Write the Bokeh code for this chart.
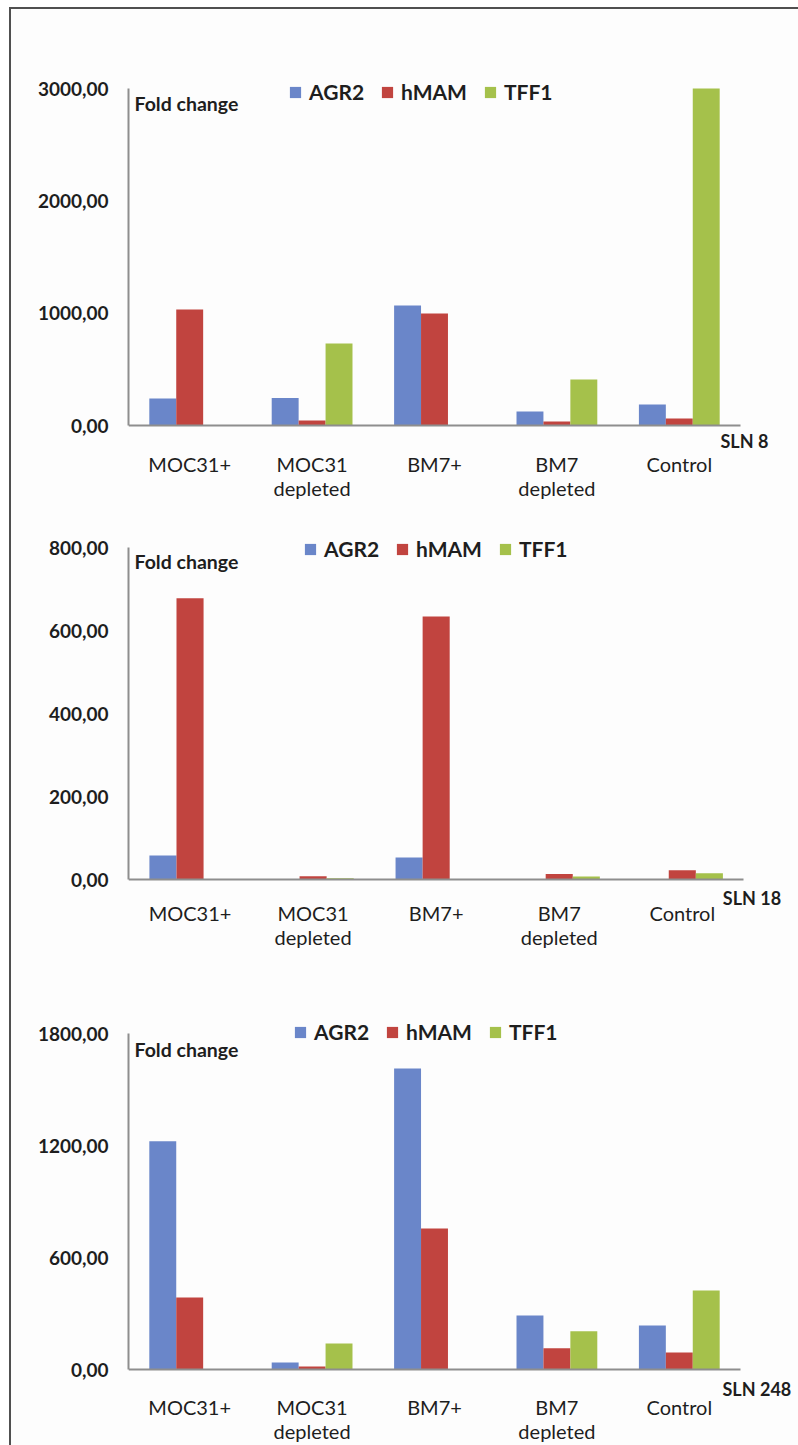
from bokeh.plotting import figure
from bokeh.layouts import column
from bokeh.models import Range1d, FixedTicker, Label, Legend, LegendItem, ColumnDataSource
from bokeh.core.properties import value
from bokeh.embed import file_html
from bokeh.resources import INLINE

categories = ["MOC31+", "MOC31\ndepleted", "BM7+", "BM7\ndepleted", "Control"]
series = ["AGR2", "hMAM", "TFF1"]
colors = ["#6a86c9", "#c1443f", "#a5c14b"]

# SLN 8
sln8_agr2 = [240, 245, 1068, 125, 187]
sln8_hmam = [1033, 45, 997, 35, 62]
sln8_tff1 = [0, 730, 0, 410, 3000]
sln8_ticks = [0, 1000, 2000, 3000]
sln8_tick_labels = ["0,00", "1000,00", "2000,00", "3000,00"]

# SLN 18
sln18_agr2 = [58, 0.5, 53, 0.5, 1]
sln18_hmam = [678, 8, 634, 13, 22]
sln18_tff1 = [0, 3, 0, 7, 15]
sln18_ticks = [0, 200, 400, 600, 800]
sln18_tick_labels = ["0,00", "200,00", "400,00", "600,00", "800,00"]

# SLN 248
sln248_agr2 = [1223, 37, 1612, 289, 236]
sln248_hmam = [386, 16, 755, 114, 91]
sln248_tff1 = [0, 139, 0, 205, 423]
sln248_ticks = [0, 600, 1200, 1800]
sln248_tick_labels = ["0,00", "600,00", "1200,00", "1800,00"]

FONT = "Lato"
TXT = "#1e1e1e"
AXIS = "#8e8e8e"
BG = "#fdfdfd"
BAR_W = 0.22
OFFSETS = [-0.22, 0.0, 0.22]
FIG_W = 787
PAGE_X0 = 11   # page x where the figures start
B_BOT = 2


def make_panel(vals, ticks, tick_labels, sln, page_top, page_bot,
               x_left, x_right, y_top, y_zero,
               leg_xy, sln_off, fold_dy, cat_dy):
    """x_left/x_right: page x of category axis ends; y_top/y_zero: page y of top tick / zero."""
    ymax = ticks[-1]
    height = page_bot - page_top
    frame_top = page_top
    frame_bot = page_bot - B_BOT
    k = (y_zero - y_top) / ymax
    y_start = -(frame_bot - y_zero) / k
    y_end = (y_zero - frame_top) / k
    n = len(categories)
    x_end = n * (PAGE_X0 + FIG_W - x_left) / (x_right - x_left)

    p = figure(width=FIG_W, height=height, output_backend="svg", toolbar_location=None,
               x_range=Range1d(0, x_end), y_range=Range1d(y_start, y_end),
               min_border_top=0, min_border_bottom=B_BOT,
               min_border_left=x_left - PAGE_X0, min_border_right=0)
    p.outline_line_color = None
    p.grid.visible = False
    p.background_fill_color = BG
    p.border_fill_color = BG

    centers = [i + 0.5 for i in range(n)]
    items = []
    for kk, name in enumerate(series):
        src = ColumnDataSource(dict(x=[c + OFFSETS[kk] for c in centers], top=vals[kk]))
        r = p.vbar(x="x", top="top", width=BAR_W, bottom=0, source=src,
                   fill_color=colors[kk], line_color=None)
        items.append(LegendItem(label=name, renderers=[r]))

    # baseline: x axis fixed at y = 0, spanning the categories
    xa = p.xaxis[0]
    xa.fixed_location = 0
    xa.bounds = (0, n)
    xa.ticker = FixedTicker(ticks=[])
    xa.major_tick_line_color = None
    xa.minor_tick_line_color = None
    xa.major_tick_out = 0
    xa.minor_tick_out = 0
    xa.major_label_standoff = 0
    xa.axis_line_color = AXIS
    xa.axis_line_width = 2

    # category labels
    p.text(x=centers, y=[0] * n, text=categories, y_offset=cat_dy,
           text_align="center", text_baseline="top",
           text_font=value(FONT), text_font_size="20px", text_color=TXT,
           text_line_height=1.0)

    ya = p.yaxis[0]
    ya.bounds = (0, ymax)
    ya.ticker = FixedTicker(ticks=ticks)
    ya.major_label_overrides = {t: lab for t, lab in zip(ticks, tick_labels)}
    ya.major_tick_line_color = None
    ya.minor_tick_line_color = None
    ya.major_tick_out = 0
    ya.axis_line_color = AXIS
    ya.axis_line_width = 2
    ya.major_label_text_font = FONT
    ya.major_label_text_font_size = "19px"
    ya.major_label_text_font_style = "bold"
    ya.major_label_text_color = TXT
    ya.major_label_standoff = 20

    legend = Legend(items=items, orientation="horizontal", location=leg_xy,
                    glyph_width=14, glyph_height=14, label_standoff=7, spacing=16,
                    padding=0, margin=0, border_line_color=None, background_fill_alpha=0,
                    label_text_font=FONT, label_text_font_size="21px",
                    label_text_font_style="bold", label_text_color=TXT)
    p.add_layout(legend)

    p.add_layout(Label(x=0, y=ymax, x_offset=6, y_offset=fold_dy, text="Fold change",
                       text_font=FONT, text_font_size="19.5px", text_font_style="bold",
                       text_color=TXT, text_baseline="middle"))
    p.add_layout(Label(x=n, y=0, x_offset=sln_off[0], y_offset=sln_off[1], text=sln,
                       text_font=FONT, text_font_size="18px", text_font_style="bold",
                       text_color=TXT, text_baseline="middle"))
    return p


p1 = make_panel([sln8_agr2, sln8_hmam, sln8_tff1], sln8_ticks, sln8_tick_labels, "SLN 8",
                9, 505, 128, 740, 88, 425,
                (160, 399), (-20, -15), -15, 26)
p2 = make_panel([sln18_agr2, sln18_hmam, sln18_tff1], sln18_ticks, sln18_tick_labels, "SLN 18",
                505, 975, 124, 743, 547, 879,
                (175, 412), (-21, -18), -14, 21)
p3 = make_panel([sln248_agr2, sln248_hmam, sln248_tff1], sln248_ticks, sln248_tick_labels, "SLN 248",
                975, 1445, 128, 740, 1033, 1369,
                (165, 399), (-18, -19), -16, 25)

layout = column(p1, p2, p3, spacing=0,
                styles={"border-top": "2px solid #505050", "border-left": "2px solid #505050",
                        "margin-left": "9px", "margin-top": "7px",
                        "background-color": BG})

open("out.html", "w").write(file_html(layout, INLINE))
